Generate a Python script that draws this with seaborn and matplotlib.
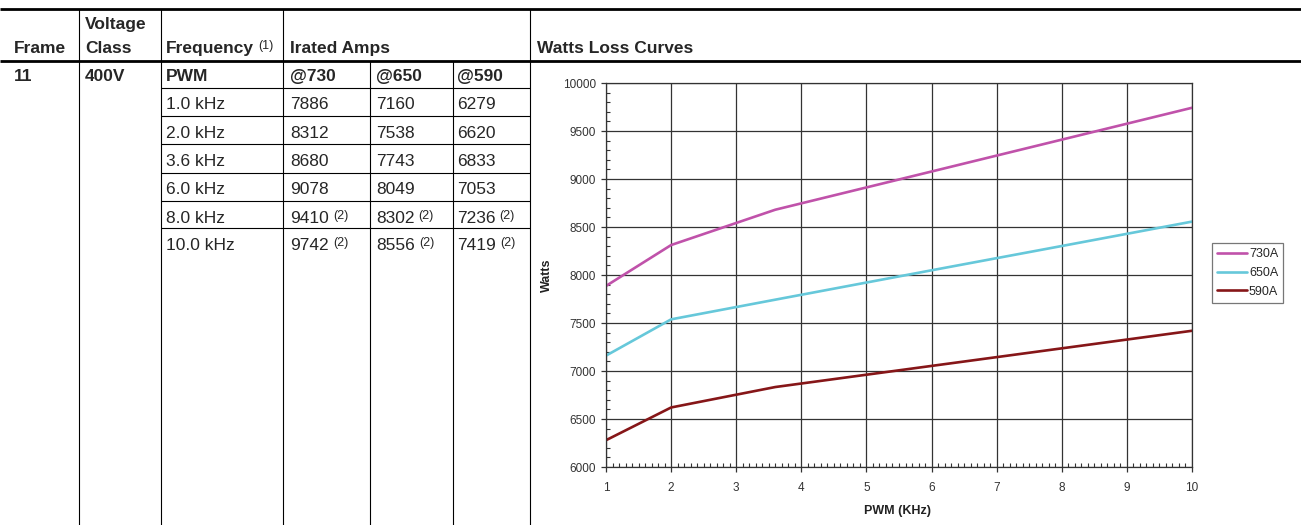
import matplotlib
matplotlib.use("Agg")
import matplotlib.pyplot as plt
from matplotlib.ticker import MultipleLocator
import numpy as np
import pandas as pd
import seaborn as sns

# table / chart data
freq_labels = ["1.0 kHz", "2.0 kHz", "3.6 kHz", "6.0 kHz", "8.0 kHz", "10.0 kHz"]
freq_khz = [1.0, 2.0, 3.6, 6.0, 8.0, 10.0]
watts_730 = [7886, 8312, 8680, 9078, 9410, 9742]
watts_650 = [7160, 7538, 7743, 8049, 8302, 8556]
watts_590 = [6279, 6620, 6833, 7053, 7236, 7419]
note2_rows = [False, False, False, False, True, True]
amp_headers = ["@730", "@650", "@590"]
series_names = ["730A", "650A", "590A"]
series_colors = ["#C052AA", "#66C8DA", "#861618"]

sns.set_style("ticks")
plt.rcParams["font.family"] = ["Liberation Sans", "DejaVu Sans"]

W, H = 1301, 525
fig = plt.figure(figsize=(W / 100, H / 100), dpi=100)

# background axes in pixel coords for the table
bg = fig.add_axes([0, 0, 1, 1])
bg.set_xlim(0, W)
bg.set_ylim(H, 0)
bg.axis("off")

FS = 12.5
SUP = 9
# thick rules
bg.hlines([8.5, 60.5], 0, W, color="black", lw=2.0)
# column lines
for x in [79, 160.5, 283, 530]:
    bg.vlines(x, 8.5, H, color="black", lw=0.8)
for x in [370, 453]:
    bg.vlines(x, 60.5, H, color="black", lw=0.8)
row_lines = [87.7, 116, 144.3, 172.7, 201, 228.3]
row_h = 28.3
bg.hlines(row_lines, 160.5, 530, color="black", lw=0.8)

# header
bg.text(14, 53, "Frame", fontsize=FS, fontweight="bold", va="baseline")
bg.text(85, 29, "Voltage", fontsize=FS, fontweight="bold", va="baseline")
bg.text(85, 53, "Class", fontsize=FS, fontweight="bold", va="baseline")
t = bg.text(166, 53, "Frequency", fontsize=FS, fontweight="bold", va="baseline")
bg.annotate("(1)", xy=(1, 1), xycoords=t, xytext=(3, 0.5), textcoords="offset points",
            fontsize=SUP, va="top", ha="left")
bg.text(290, 53, "Irated Amps", fontsize=FS, fontweight="bold", va="baseline")
bg.text(537, 53, "Watts Loss Curves", fontsize=FS, fontweight="bold", va="baseline")

# first row
col_x = [290, 376, 457]
yb0 = row_lines[0] - 6.7
bg.text(14, yb0, "11", fontsize=FS, fontweight="bold", va="baseline")
bg.text(85, yb0, "400V", fontsize=FS, fontweight="bold", va="baseline")
bg.text(166, yb0, "PWM", fontsize=FS, fontweight="bold", va="baseline")
for x, h in zip(col_x, amp_headers):
    bg.text(x, yb0, h, fontsize=FS, fontweight="bold", va="baseline")

# data rows
for i, lab in enumerate(freq_labels):
    yb = row_lines[i] + row_h - 6.7
    bg.text(166, yb, lab, fontsize=FS, va="baseline")
    for x, vals in zip(col_x, [watts_730, watts_650, watts_590]):
        t = bg.text(x, yb, str(vals[i]), fontsize=FS, va="baseline")
        if note2_rows[i]:
            bg.annotate("(2)", xy=(1, 1), xycoords=t, xytext=(3, 0.5),
                        textcoords="offset points", fontsize=SUP, va="top", ha="left")

# chart
ax = fig.add_axes([606 / W, 1 - 467 / H, 586 / W, 384 / H])
df = pd.DataFrame({
    "PWM (KHz)": freq_khz * 3,
    "Watts": watts_730 + watts_650 + watts_590,
    "series": np.repeat(series_names, len(freq_khz)),
})
sns.lineplot(data=df, x="PWM (KHz)", y="Watts", hue="series",
             palette=dict(zip(series_names, series_colors)), linewidth=1.9, ax=ax)

ax.set_xlim(1, 10)
ax.set_ylim(6000, 10000)
ax.xaxis.set_major_locator(MultipleLocator(1))
ax.yaxis.set_major_locator(MultipleLocator(500))
ax.xaxis.set_minor_locator(MultipleLocator(0.1))
ax.yaxis.set_minor_locator(MultipleLocator(100))
ax.grid(True, which="major", color="#333333", lw=0.9)
ax.set_axisbelow(True)
ax.tick_params(which="major", direction="out", length=3.5, width=0.9, color="#333333",
               labelsize=8.5, labelcolor="#333333", pad=3.5)
ax.tick_params(axis="x", which="major", pad=7)
ax.tick_params(which="minor", direction="in", length=3, width=0.8, color="#333333")
for s in ax.spines.values():
    s.set_visible(True)
    s.set_color("#333333")
    s.set_linewidth(0.9)

ax.set_xlabel("PWM (KHz)", fontsize=9, fontweight="bold", color="#222222")
ax.set_ylabel("Watts", fontsize=9, fontweight="bold", color="#222222")
ax.xaxis.set_label_coords((898 - 606) / 586, -(505 - 467) / 384)
ax.yaxis.set_label_coords(-(606 - 553) / 586, 0.5)

sns.move_legend(ax, "upper left", bbox_to_anchor=((1212 - 606) / 586, (467 - 243) / 384),
                title=None, frameon=True, fancybox=False, fontsize=9, handlelength=2.4,
                handletextpad=0.15, labelspacing=0.55, borderpad=0.4, borderaxespad=0)
leg = ax.get_legend()
leg.get_frame().set_edgecolor("#555555")
leg.get_frame().set_linewidth(0.9)
for line in leg.get_lines():
    line.set_linewidth(1.9)

fig.savefig("out.png", dpi=100)
